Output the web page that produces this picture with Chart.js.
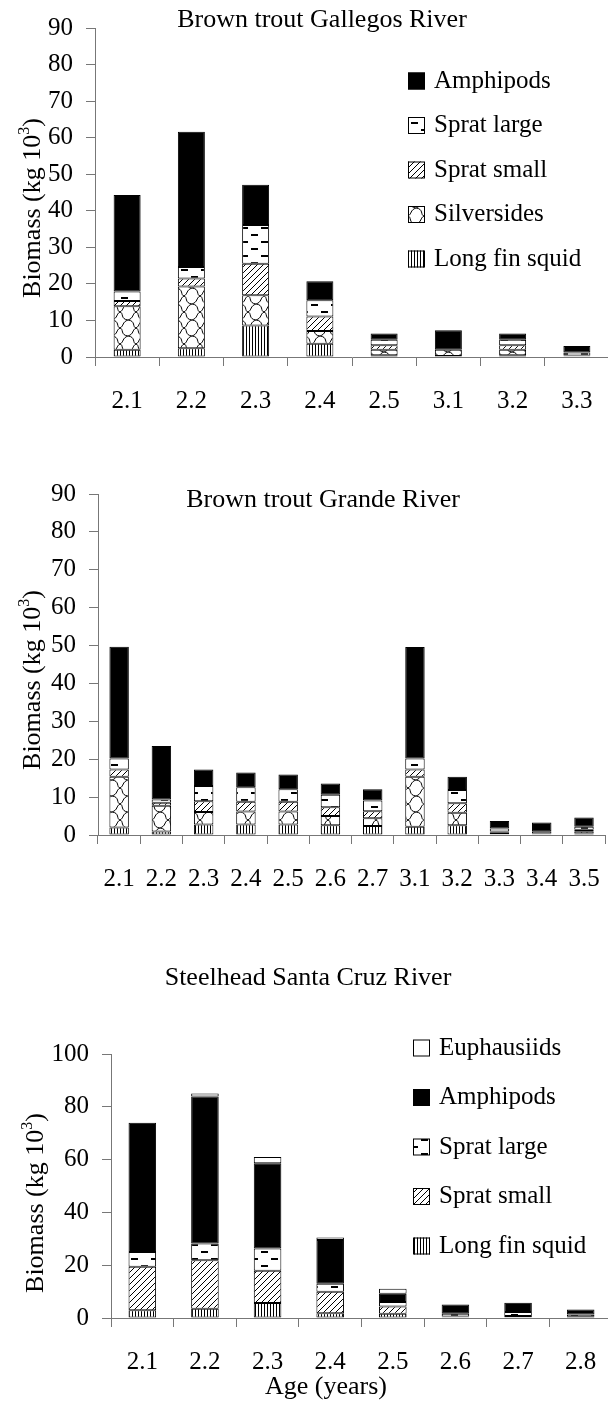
<!DOCTYPE html>
<html>
<head>
<meta charset="utf-8">
<title>Biomass by age</title>
<script src="https://cdn.jsdelivr.net/npm/chart.js@4.4.1/dist/chart.umd.min.js"></script>
<style>
  html, body { margin: 0; padding: 0; background: #fff; overflow: hidden; }
  body { width: 608px; height: 1403px; position: relative; }
  canvas { position: absolute; left: 0; }
</style>
</head>
<body>
<canvas id="gallegos" width="620" height="440" style="top:0px"></canvas>
<canvas id="grande" width="620" height="440" style="top:460px"></canvas>
<canvas id="santacruz" width="620" height="463" style="top:940px"></canvas>
<script>
// biomass (kg 10^3), bottom segment first

// Brown trout, Gallegos River
var gallegosAges = ['2.1', '2.2', '2.3', '2.4', '2.5', '3.1', '3.2', '3.3'];
var gallegosSquid = [2, 2.4, 8.6, 3.6, 0.5, 0.3, 0.5, 0.2];
var gallegosSilversides = [11.9, 16.9, 8.3, 3.5, 1.5, 1.7, 1.5, 0];
var gallegosSpratSmall = [1.4, 2.2, 8.6, 4, 1.2, 0, 1.2, 0.2];
var gallegosSpratLarge = [2.6, 3.1, 10.6, 4.4, 1.5, 0, 1.5, 0.8];
var gallegosAmphipods = [26.4, 37, 11, 5.2, 1.7, 5.3, 1.7, 1.8];

// Brown trout, Grande River
var grandeAges = ['2.1', '2.2', '2.3', '2.4', '2.5', '2.6', '2.7', '3.1', '3.2', '3.3', '3.4', '3.5'];
var grandeSquid = [2, 0.9, 2.8, 2.8, 2.8, 2.6, 2.4, 2.2, 2.6, 0.2, 0.2, 0.4];
var grandeSilversides = [13.4, 6.8, 3.3, 3.4, 3.4, 2.4, 2, 13.2, 3.3, 0.5, 0, 0.6];
var grandeSpratSmall = [1.9, 0.8, 2.8, 2.6, 2.6, 2.3, 1.9, 1.9, 2.5, 0.2, 0.2, 0.4];
var grandeSpratLarge = [2.9, 0.9, 4, 3.8, 3.3, 3.3, 2.8, 2.9, 3.5, 0.8, 0.6, 0.8];
var grandeAmphipods = [29.5, 14.1, 4.4, 3.9, 3.9, 3, 3, 29.4, 3.5, 2, 2.3, 2.4];

// Steelhead, Santa Cruz River
var santaCruzAges = ['2.1', '2.2', '2.3', '2.4', '2.5', '2.6', '2.7', '2.8'];
var santaCruzSquid = [2.9, 3.5, 5.7, 1.8, 1.6, 0.3, 0.3, 0.2];
var santaCruzSpratSmall = [16.5, 18.4, 12.2, 8.1, 2.8, 0.3, 0.5, 0.3];
var santaCruzSpratLarge = [5.6, 6.3, 8.4, 3.1, 1.7, 1, 1.5, 0.8];
var santaCruzAmphipods = [49, 55.7, 32.3, 16.5, 3.1, 3.5, 3.5, 1.9];
var santaCruzEuphausiids = [0, 1.1, 2.4, 1, 1.9, 0, 0, 0];

var gallegosTicks = [0, 10, 20, 30, 40, 50, 60, 70, 80, 90];
var santaCruzTicks = [0, 20, 40, 60, 80, 100];

var SERIF = '"Liberation Serif", "Times New Roman", serif';
var AXIS = '#777';

// fill patterns for the prey groups
var makePattern = function (w, h, draw) {
    var c = document.createElement('canvas');
    c.width = w;
    c.height = h;
    var g = c.getContext('2d');
    g.fillStyle = '#fff';
    g.fillRect(0, 0, w, h);
    g.fillStyle = '#000';
    g.strokeStyle = '#000';
    g.lineWidth = 1;
    draw(g);
    return g.createPattern(c, 'repeat');
};

var squidFill = makePattern(3, 4, function (g) {
    g.fillRect(0, 0, 1, 4);
});
var spratSmallFill = makePattern(6, 6, function (g) {
    g.beginPath();
    g.moveTo(-1, 7); g.lineTo(7, -1);
    g.moveTo(-1, 1); g.lineTo(1, -1);
    g.moveTo(5, 7); g.lineTo(7, 5);
    g.stroke();
});
var spratLargeFill = makePattern(20, 14, function (g) {
    g.fillRect(1, 3, 7, 2);
    g.fillRect(11, 10, 7, 2);
});
var silversidesFill = makePattern(16, 16, function (g) {
    g.beginPath();
    g.moveTo(0, 0); g.bezierCurveTo(8, 1, 4, 7, 8, 8); g.bezierCurveTo(12, 9, 8, 15, 16, 16);
    g.moveTo(16, 0); g.bezierCurveTo(10, 2, 12, 6, 8, 8); g.bezierCurveTo(4, 10, 6, 14, 0, 16);
    g.stroke();
});
var amphipodsFill = '#000';
var euphausiidsFill = '#fff';

var dataset = function (label, values, fill) {
    return {
        label: label,
        data: values,
        backgroundColor: fill,
        borderColor: '#000',
        borderWidth: 1,
        borderSkipped: false
    };
};

var drawYTitle = function (ctx, bx, cy) {
    var main = 'Biomass (kg 10', sup = '3', end = ')';
    ctx.save();
    ctx.translate(bx, cy);
    ctx.rotate(-Math.PI / 2);
    ctx.textAlign = 'left';
    ctx.textBaseline = 'alphabetic';
    ctx.font = '26px ' + SERIF;
    var wMain = ctx.measureText(main).width;
    var wEnd = ctx.measureText(end).width;
    ctx.font = '16px ' + SERIF;
    var wSup = ctx.measureText(sup).width;
    var x = -(wMain + wSup + wEnd) / 2;
    ctx.font = '26px ' + SERIF;
    ctx.fillText(main, x, 0);
    ctx.font = '16px ' + SERIF;
    ctx.fillText(sup, x + wMain, -11);
    ctx.font = '26px ' + SERIF;
    ctx.fillText(end, x + wMain + wSup, 0);
    ctx.restore();
};

var drawLegend = function (chart, ctx, cfg) {
    var sets = chart.data.datasets.slice().reverse();
    ctx.textAlign = 'left';
    ctx.textBaseline = 'middle';
    ctx.font = '25px ' + SERIF;
    sets.forEach(function (ds, i) {
        var cy = cfg.legendY + i * cfg.legendGap;
        ctx.fillStyle = ds.backgroundColor;
        ctx.fillRect(cfg.legendX, cy - 8.5, 17, 17);
        ctx.strokeStyle = '#000';
        ctx.lineWidth = 1;
        ctx.strokeRect(cfg.legendX + 0.5, cy - 8, 16, 16);
        ctx.fillStyle = '#000';
        ctx.fillText(ds.label, cfg.legendX + 26, cy);
    });
};

// titles, axis titles and legend drawn on top of each panel
var annotations = function (cfg) {
    return {
        id: 'annotations',
        afterDraw: function (chart) {
            var ctx = chart.ctx;
            ctx.save();
            ctx.fillStyle = '#000';
            ctx.textAlign = 'center';
            ctx.textBaseline = 'middle';
            ctx.font = '26px ' + SERIF;
            ctx.fillText(cfg.title, cfg.titleX, cfg.titleY);
            if (cfg.xTitle) {
                ctx.fillText(cfg.xTitle, cfg.xTitleX, cfg.xTitleY);
            }
            drawYTitle(ctx, cfg.yTitleX, cfg.yTitleY);
            if (cfg.legendX) {
                drawLegend(chart, ctx, cfg);
            }
            ctx.restore();
        }
    };
};

var buildChart = function (id, labels, datasets, box, yMax, yTicks, barPct, cfg) {
    var canvas = document.getElementById(id);
    var H = canvas.height, W = canvas.width;
    return new Chart(canvas, {
        type: 'bar',
        data: { labels: labels, datasets: datasets },
        options: {
            responsive: false,
            animation: false,
            devicePixelRatio: 1,
            events: [],
            layout: { padding: { top: box.top, left: 0, right: W - box.right, bottom: 0 } },
            datasets: { bar: { barPercentage: barPct, categoryPercentage: 1 } },
            plugins: { legend: { display: false }, title: { display: false }, tooltip: { enabled: false } },
            scales: {
                x: {
                    stacked: true,
                    offset: true,
                    grid: { offset: true, drawOnChartArea: false, tickLength: 9, color: AXIS },
                    border: { color: AXIS, width: 1 },
                    ticks: { color: '#000', font: { family: SERIF, size: 25 }, padding: 20, maxRotation: 0, autoSkip: false },
                    afterFit: function (s) { s.height = H - box.bottom; }
                },
                y: {
                    stacked: true,
                    min: 0,
                    max: yMax,
                    grid: { drawOnChartArea: false, tickLength: 9, color: AXIS },
                    border: { color: AXIS, width: 1 },
                    ticks: { color: '#000', font: { family: SERIF, size: 25 }, padding: 13 },
                    afterBuildTicks: function (s) {
                        s.ticks = yTicks.map(function (v) { return { value: v }; });
                    },
                    afterFit: function (s) { s.width = box.left; }
                }
            }
        },
        plugins: [annotations(cfg)]
    });
};

buildChart('gallegos', gallegosAges, [
    dataset('Long fin squid', gallegosSquid, squidFill),
    dataset('Silversides', gallegosSilversides, silversidesFill),
    dataset('Sprat small', gallegosSpratSmall, spratSmallFill),
    dataset('Sprat large', gallegosSpratLarge, spratLargeFill),
    dataset('Amphipods', gallegosAmphipods, amphipodsFill)
], { left: 95, right: 609, top: 19, bottom: 357 }, 90, gallegosTicks, 0.42, {
    title: 'Brown trout Gallegos River', titleX: 322, titleY: 20,
    yTitleX: 40, yTitleY: 208,
    legendX: 408, legendY: 81, legendGap: 44.5
});

buildChart('grande', grandeAges, [
    dataset('Long fin squid', grandeSquid, squidFill),
    dataset('Silversides', grandeSilversides, silversidesFill),
    dataset('Sprat small', grandeSpratSmall, spratSmallFill),
    dataset('Sprat large', grandeSpratLarge, spratLargeFill),
    dataset('Amphipods', grandeAmphipods, amphipodsFill)
], { left: 98, right: 611, top: 34, bottom: 375 }, 90, gallegosTicks, 0.46, {
    title: 'Brown trout Grande River', titleX: 323, titleY: 40,
    yTitleX: 40, yTitleY: 220
});

buildChart('santacruz', santaCruzAges, [
    dataset('Long fin squid', santaCruzSquid, squidFill),
    dataset('Sprat small', santaCruzSpratSmall, spratSmallFill),
    dataset('Sprat large', santaCruzSpratLarge, spratLargeFill),
    dataset('Amphipods', santaCruzAmphipods, amphipodsFill),
    dataset('Euphausiids', santaCruzEuphausiids, euphausiidsFill)
], { left: 111, right: 612, top: 114, bottom: 378 }, 100, santaCruzTicks, 0.44, {
    title: 'Steelhead Santa Cruz River', titleX: 308, titleY: 38,
    xTitle: 'Age (years)', xTitleX: 326, xTitleY: 447,
    yTitleX: 43, yTitleY: 263,
    legendX: 413, legendY: 108, legendGap: 49.5
});
</script>
</body>
</html>
